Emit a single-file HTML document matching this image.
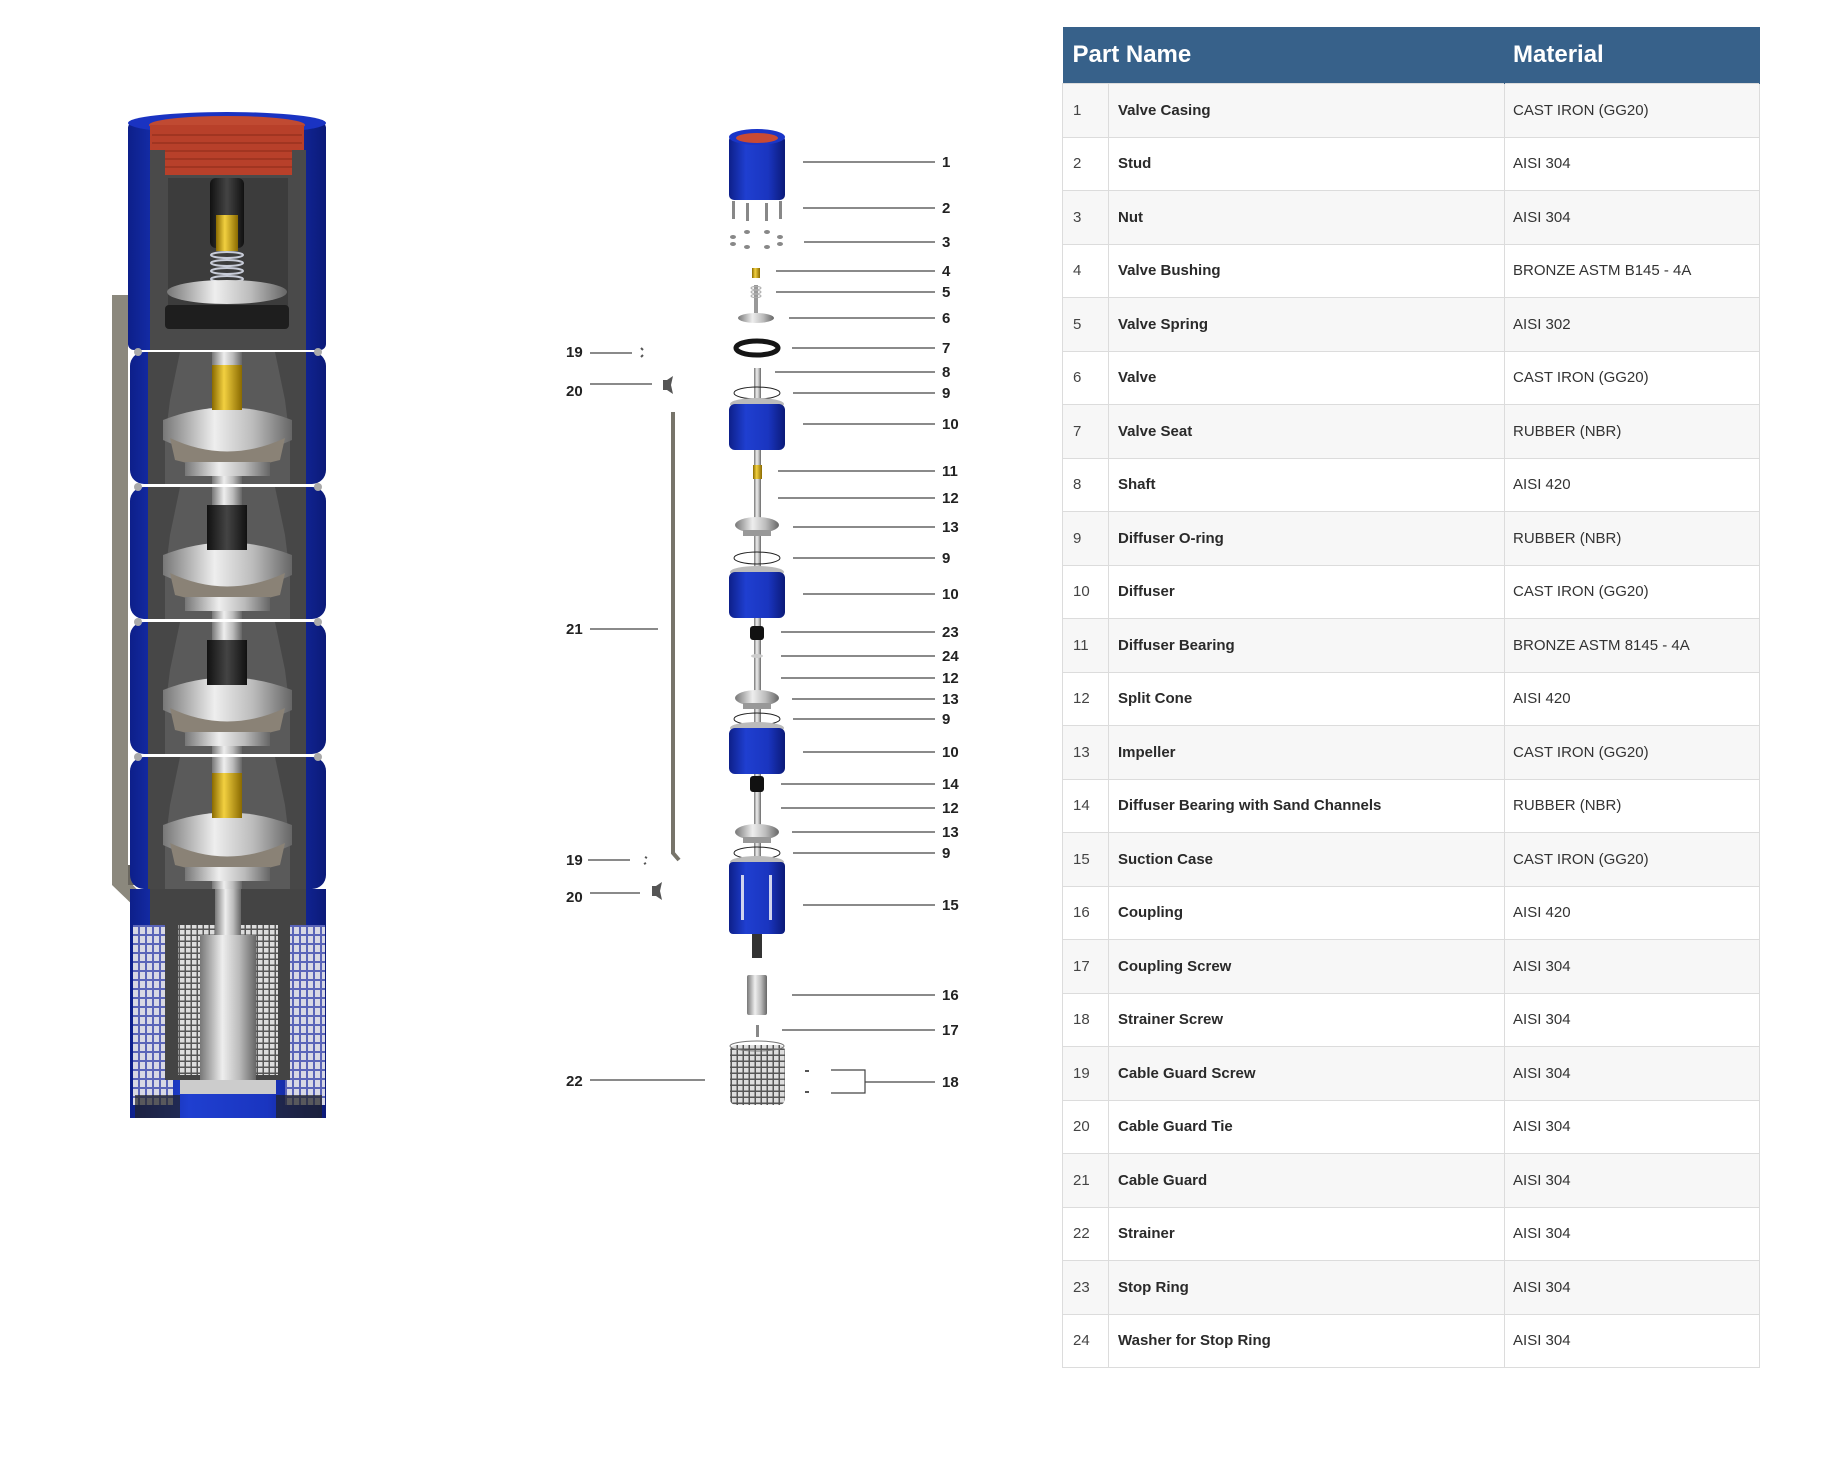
<!DOCTYPE html>
<html><head><meta charset="utf-8">
<style>
html,body{margin:0;padding:0;background:#fff;}
body{width:1836px;height:1458px;position:relative;overflow:hidden;font-family:"Liberation Sans",sans-serif;}
svg{position:absolute;left:0;top:0;}
table{position:absolute;left:1062px;top:27px;width:697px;border-collapse:collapse;table-layout:fixed;}
th{background:#37618a;color:#fff;font-size:24px;font-weight:bold;text-align:left;height:56px;padding:0 0 0 10px;border-right:1px solid #37618a;}
td{height:52.5px;border:1px solid #dcdcdc;font-size:15px;color:#333;padding:0 0 0 9px;white-space:nowrap;}
td.n{color:#444;padding-left:10px;}
td.p{font-weight:bold;color:#2a2a2a;}
td.m{padding-left:8px;color:#333;}
tr:nth-child(even) td{background:#f7f7f7;}
tr:nth-child(odd) td{background:#fff;}
.lb{font-family:"Liberation Sans",sans-serif;font-weight:bold;font-size:15px;fill:#222;}
</style></head><body>
<svg width="1836" height="1458" viewBox="0 0 1836 1458">
<defs>
<linearGradient id="bl" x1="0" x2="1"><stop offset="0" stop-color="#0d1f8a"/><stop offset=".3" stop-color="#1f3fd0"/><stop offset=".7" stop-color="#1a35c0"/><stop offset="1" stop-color="#0b1a78"/></linearGradient>
<linearGradient id="sv" x1="0" x2="1"><stop offset="0" stop-color="#777"/><stop offset=".4" stop-color="#eee"/><stop offset=".7" stop-color="#bbb"/><stop offset="1" stop-color="#666"/></linearGradient>
<linearGradient id="gd" x1="0" x2="1"><stop offset="0" stop-color="#8a6a00"/><stop offset=".4" stop-color="#f2d040"/><stop offset="1" stop-color="#8a6a00"/></linearGradient>
<linearGradient id="dk" x1="0" x2="1"><stop offset="0" stop-color="#111"/><stop offset=".5" stop-color="#444"/><stop offset="1" stop-color="#111"/></linearGradient>
<pattern id="grid" width="7" height="9" patternUnits="userSpaceOnUse"><rect width="7" height="9" fill="#5a64b8"/><rect width="5" height="7" fill="#d8d8e4"/></pattern>
<pattern id="grid2" width="6" height="6" patternUnits="userSpaceOnUse"><rect width="6" height="6" fill="#555"/><rect width="4.5" height="4.5" fill="#ddd"/></pattern>
</defs>

<path d="M112 295 H128 V880 L152 905 L140 912 L112 885 Z" fill="#8b887d"/>
<rect x="128" y="310" width="12" height="20" fill="#6a675f"/>
<rect x="128" y="865" width="12" height="20" fill="#6a675f"/>
<rect x="128" y="122" width="198" height="228" rx="6" fill="url(#bl)"/>
<ellipse cx="227" cy="123" rx="99" ry="11" fill="#1a33c2"/>
<ellipse cx="227" cy="125" rx="78" ry="9" fill="#c04a32"/>
<rect x="150" y="125" width="154" height="50" fill="#b8402a"/>
<g stroke="#8a2a18" stroke-width="1">
<line x1="152" y1="135" x2="302" y2="135"/><line x1="152" y1="143" x2="302" y2="143"/><line x1="152" y1="151" x2="302" y2="151"/><line x1="152" y1="159" x2="302" y2="159"/><line x1="152" y1="167" x2="302" y2="167"/></g>
<path d="M150 150 H165 V175 H292 V150 H306 V350 H150 Z" fill="#4a4a4a"/>
<rect x="168" y="178" width="120" height="130" fill="#3c3c3c"/>
<rect x="210" y="178" width="34" height="70" rx="6" fill="url(#dk)"/>
<rect x="216" y="215" width="22" height="36" fill="url(#gd)"/>
<g stroke="#c8ccd8" stroke-width="2" fill="none"><ellipse cx="227" cy="255" rx="16" ry="3"/><ellipse cx="227" cy="263" rx="16" ry="3"/><ellipse cx="227" cy="271" rx="16" ry="3"/><ellipse cx="227" cy="279" rx="16" ry="3"/></g>
<ellipse cx="227" cy="292" rx="60" ry="12" fill="url(#sv)"/>
<rect x="165" y="305" width="124" height="24" rx="4" fill="#1e1e1e"/>
<g id="stage">
<rect x="130" y="352" width="196" height="132" rx="14" fill="url(#bl)"/>
<path d="M148 352 H306 V484 H148 Z" fill="#474747"/>
<path d="M180 352 L170 400 L165 440 L165 484 H290 L290 440 L285 400 L275 352 Z" fill="#5a5a5a"/>
<rect x="212" y="352" width="30" height="132" fill="url(#sv)"/>
<path d="M163 420 Q227 395 292 420 L292 440 Q227 470 163 440 Z" fill="url(#sv)"/>
<path d="M170 438 Q227 465 285 438 L280 460 Q227 475 175 460 Z" fill="#8a8276"/>
<rect x="185" y="462" width="85" height="14" fill="url(#sv)"/>
<circle cx="138" cy="352" r="4" fill="#aaa"/><circle cx="318" cy="352" r="4" fill="#aaa"/>
</g>
<rect x="212" y="365" width="30" height="45" fill="url(#gd)"/>
<use href="#stage" y="135"/>
<rect x="207" y="505" width="40" height="45" fill="url(#dk)"/>
<use href="#stage" y="270"/>
<rect x="207" y="640" width="40" height="45" fill="url(#dk)"/>
<use href="#stage" y="405"/>
<rect x="212" y="773" width="30" height="45" fill="url(#gd)"/>
<rect x="130" y="889" width="196" height="229" fill="url(#bl)"/>
<rect x="133" y="925" width="40" height="180" fill="url(#grid)"/>
<rect x="285" y="925" width="40" height="180" fill="url(#grid)"/>
<path d="M150 889 H306 V925 H290 V1080 H165 V925 H150 Z" fill="#444"/>
<rect x="178" y="925" width="100" height="150" fill="url(#grid2)"/>
<rect x="215" y="889" width="26" height="50" fill="url(#sv)"/>
<rect x="200" y="935" width="56" height="145" fill="url(#sv)"/>
<rect x="180" y="1080" width="96" height="14" fill="#ccc"/>
<path d="M135 1095 H180 V1118 H135 Z M276 1095 H322 V1118 H276 Z" fill="#222" opacity=".7"/>

<g stroke="#444" stroke-width="1.2">
<line x1="803" y1="162" x2="935" y2="162"/>
<line x1="803" y1="208" x2="935" y2="208"/>
<line x1="804" y1="242" x2="935" y2="242"/>
<line x1="776" y1="271" x2="935" y2="271"/>
<line x1="776" y1="292" x2="935" y2="292"/>
<line x1="789" y1="318" x2="935" y2="318"/>
<line x1="792" y1="348" x2="935" y2="348"/>
<line x1="775" y1="372" x2="935" y2="372"/>
<line x1="793" y1="393" x2="935" y2="393"/>
<line x1="803" y1="424" x2="935" y2="424"/>
<line x1="778" y1="471" x2="935" y2="471"/>
<line x1="778" y1="498" x2="935" y2="498"/>
<line x1="793" y1="527" x2="935" y2="527"/>
<line x1="793" y1="558" x2="935" y2="558"/>
<line x1="803" y1="594" x2="935" y2="594"/>
<line x1="781" y1="632" x2="935" y2="632"/>
<line x1="781" y1="656" x2="935" y2="656"/>
<line x1="781" y1="678" x2="935" y2="678"/>
<line x1="792" y1="699" x2="935" y2="699"/>
<line x1="793" y1="719" x2="935" y2="719"/>
<line x1="803" y1="752" x2="935" y2="752"/>
<line x1="781" y1="784" x2="935" y2="784"/>
<line x1="781" y1="808" x2="935" y2="808"/>
<line x1="792" y1="832" x2="935" y2="832"/>
<line x1="793" y1="853" x2="935" y2="853"/>
<line x1="803" y1="905" x2="935" y2="905"/>
<line x1="792" y1="995" x2="935" y2="995"/>
<line x1="782" y1="1030" x2="935" y2="1030"/>
<polyline points="831,1070 865,1070 865,1093 831,1093" fill="none"/>
<line x1="865" y1="1082" x2="935" y2="1082"/>
<line x1="590" y1="353" x2="632" y2="353"/>
<line x1="590" y1="384" x2="652" y2="384"/>
<line x1="590" y1="629" x2="658" y2="629"/>
<line x1="588" y1="860" x2="630" y2="860"/>
<line x1="590" y1="893" x2="640" y2="893"/>
<line x1="590" y1="1080" x2="705" y2="1080"/>
</g>
<g class="lb">
<text x="942" y="167">1</text><text x="942" y="213">2</text><text x="942" y="247">3</text>
<text x="942" y="276">4</text><text x="942" y="297">5</text><text x="942" y="323">6</text>
<text x="942" y="353">7</text><text x="942" y="377">8</text><text x="942" y="398">9</text>
<text x="942" y="429">10</text><text x="942" y="476">11</text><text x="942" y="503">12</text>
<text x="942" y="532">13</text><text x="942" y="563">9</text><text x="942" y="599">10</text>
<text x="942" y="637">23</text><text x="942" y="661">24</text><text x="942" y="683">12</text>
<text x="942" y="704">13</text><text x="942" y="724">9</text><text x="942" y="757">10</text>
<text x="942" y="789">14</text><text x="942" y="813">12</text><text x="942" y="837">13</text>
<text x="942" y="858">9</text><text x="942" y="910">15</text><text x="942" y="1000">16</text>
<text x="942" y="1035">17</text><text x="942" y="1087">18</text>
<text x="566" y="357">19</text><text x="566" y="396">20</text><text x="566" y="634">21</text>
<text x="566" y="865">19</text><text x="566" y="902">20</text><text x="566" y="1086">22</text>
</g>
<path d="M641 348 l2 2 M641 357 l2 -2" stroke="#555" stroke-width="2"/>
<path d="M663 380 L667 380 L673 376 L671 385 L673 394 L667 390 L663 390 Z" fill="#555"/>
<path d="M645 857 l2 1 M644 864 l2 -1" stroke="#555" stroke-width="2"/>
<path d="M652 886 L656 886 L662 882 L660 891 L662 900 L656 896 L652 896 Z" fill="#555"/>
<path d="M673 412 V853 L679 860" stroke="#77746a" stroke-width="4" fill="none"/>
<rect x="729" y="135" width="56" height="65" rx="5" fill="url(#bl)"/>
<ellipse cx="757" cy="137" rx="28" ry="8" fill="#1a35c8"/>
<ellipse cx="757" cy="138" rx="21" ry="5" fill="#c84a34"/>
<g fill="#888"><rect x="732" y="201" width="3" height="18"/><rect x="746" y="203" width="3" height="18"/><rect x="765" y="203" width="3" height="18"/><rect x="779" y="201" width="3" height="18"/>
<ellipse cx="733" cy="237" rx="3" ry="2"/><ellipse cx="733" cy="244" rx="3" ry="2"/><ellipse cx="747" cy="232" rx="3" ry="2"/><ellipse cx="747" cy="247" rx="3" ry="2"/><ellipse cx="767" cy="232" rx="3" ry="2"/><ellipse cx="767" cy="247" rx="3" ry="2"/><ellipse cx="780" cy="237" rx="3" ry="2"/><ellipse cx="780" cy="244" rx="3" ry="2"/></g>
<rect x="752" y="268" width="8" height="10" fill="url(#gd)"/>
<rect x="754" y="285" width="4" height="28" fill="#999"/>
<g stroke="#aaa" fill="none"><ellipse cx="756" cy="288" rx="5" ry="1.5"/><ellipse cx="756" cy="292" rx="5" ry="1.5"/><ellipse cx="756" cy="296" rx="5" ry="1.5"/></g>
<ellipse cx="756" cy="318" rx="18" ry="5" fill="url(#sv)"/>
<ellipse cx="757" cy="348" rx="21" ry="7" fill="none" stroke="#151515" stroke-width="5"/>
<rect x="754" y="368" width="7" height="590" fill="url(#sv)"/>
<g id="ring"><ellipse cx="757" cy="393" rx="23" ry="6" fill="none" stroke="#222" stroke-width="1"/></g>
<g id="diff"><ellipse cx="757" cy="404" rx="27" ry="6" fill="#bbb"/><rect x="729" y="404" width="56" height="46" rx="6" fill="url(#bl)"/></g>
<rect x="753" y="465" width="9" height="14" fill="url(#gd)"/>
<g id="imp"><ellipse cx="757" cy="525" rx="22" ry="8" fill="url(#sv)"/><rect x="743" y="530" width="28" height="6" fill="#999"/></g>
<use href="#ring" y="165"/>
<use href="#diff" y="168"/>
<rect x="750" y="626" width="14" height="14" rx="3" fill="#111"/>
<ellipse cx="757" cy="656" rx="6" ry="2" fill="#ccc"/>
<use href="#imp" y="173"/>
<use href="#ring" y="326"/>
<use href="#diff" y="324"/>
<rect x="750" y="776" width="14" height="16" rx="3" fill="#111"/>
<use href="#imp" y="307"/>
<use href="#ring" y="460"/>
<ellipse cx="757" cy="862" rx="27" ry="6" fill="#bbb"/>
<rect x="729" y="862" width="56" height="72" rx="4" fill="url(#bl)"/>
<g fill="#d0d4ee"><rect x="741" y="875" width="3" height="45"/><rect x="769" y="875" width="3" height="45"/></g>
<rect x="752" y="934" width="10" height="24" fill="#333"/>
<rect x="747" y="975" width="20" height="40" rx="2" fill="url(#sv)"/>
<rect x="756" y="1025" width="3" height="12" fill="#888"/>
<rect x="730" y="1045" width="55" height="60" rx="6" fill="url(#grid2)"/>
<ellipse cx="757" cy="1046" rx="27" ry="5" fill="none" stroke="#777"/>
<rect x="805" y="1070" width="4" height="2" fill="#555"/><rect x="805" y="1091" width="4" height="2" fill="#555"/>
</svg>

<table>
<colgroup><col style="width:46px"><col style="width:396px"><col style="width:255px"></colgroup>
<tr><th colspan="2">Part Name</th><th style="padding-left:8px">Material</th></tr>
<tr><td class="n">1</td><td class="p">Valve Casing</td><td class="m">CAST IRON (GG20)</td></tr>
<tr><td class="n">2</td><td class="p">Stud</td><td class="m">AISI 304</td></tr>
<tr><td class="n">3</td><td class="p">Nut</td><td class="m">AISI 304</td></tr>
<tr><td class="n">4</td><td class="p">Valve Bushing</td><td class="m">BRONZE ASTM B145 - 4A</td></tr>
<tr><td class="n">5</td><td class="p">Valve Spring</td><td class="m">AISI 302</td></tr>
<tr><td class="n">6</td><td class="p">Valve</td><td class="m">CAST IRON (GG20)</td></tr>
<tr><td class="n">7</td><td class="p">Valve Seat</td><td class="m">RUBBER (NBR)</td></tr>
<tr><td class="n">8</td><td class="p">Shaft</td><td class="m">AISI 420</td></tr>
<tr><td class="n">9</td><td class="p">Diffuser O-ring</td><td class="m">RUBBER (NBR)</td></tr>
<tr><td class="n">10</td><td class="p">Diffuser</td><td class="m">CAST IRON (GG20)</td></tr>
<tr><td class="n">11</td><td class="p">Diffuser Bearing</td><td class="m">BRONZE ASTM 8145 - 4A</td></tr>
<tr><td class="n">12</td><td class="p">Split Cone</td><td class="m">AISI 420</td></tr>
<tr><td class="n">13</td><td class="p">Impeller</td><td class="m">CAST IRON (GG20)</td></tr>
<tr><td class="n">14</td><td class="p">Diffuser Bearing with Sand Channels</td><td class="m">RUBBER (NBR)</td></tr>
<tr><td class="n">15</td><td class="p">Suction Case</td><td class="m">CAST IRON (GG20)</td></tr>
<tr><td class="n">16</td><td class="p">Coupling</td><td class="m">AISI 420</td></tr>
<tr><td class="n">17</td><td class="p">Coupling Screw</td><td class="m">AISI 304</td></tr>
<tr><td class="n">18</td><td class="p">Strainer Screw</td><td class="m">AISI 304</td></tr>
<tr><td class="n">19</td><td class="p">Cable Guard Screw</td><td class="m">AISI 304</td></tr>
<tr><td class="n">20</td><td class="p">Cable Guard Tie</td><td class="m">AISI 304</td></tr>
<tr><td class="n">21</td><td class="p">Cable Guard</td><td class="m">AISI 304</td></tr>
<tr><td class="n">22</td><td class="p">Strainer</td><td class="m">AISI 304</td></tr>
<tr><td class="n">23</td><td class="p">Stop Ring</td><td class="m">AISI 304</td></tr>
<tr><td class="n">24</td><td class="p">Washer for Stop Ring</td><td class="m">AISI 304</td></tr>
</table>
</body></html>
